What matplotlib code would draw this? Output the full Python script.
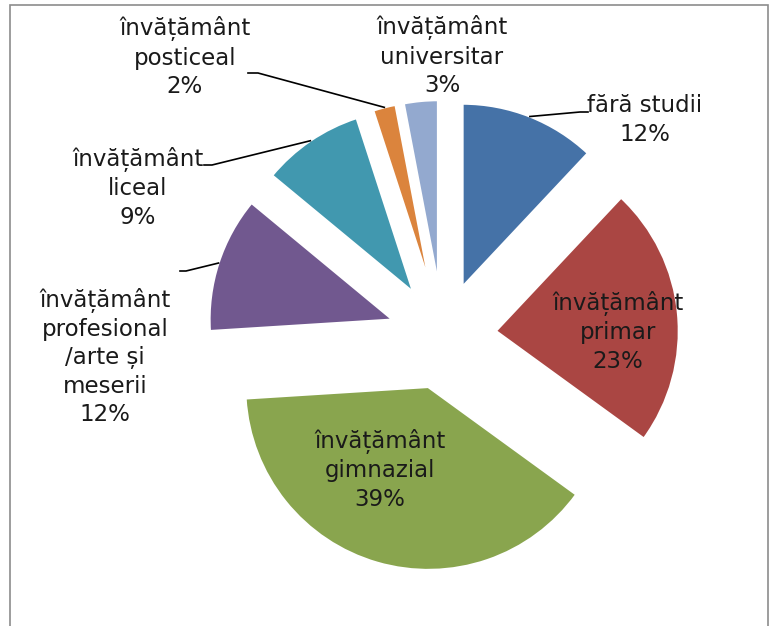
import numpy as np
import matplotlib.pyplot as plt
from matplotlib.patches import Rectangle

# Data
categories = ["fără studii", "învățământ\nprimar", "învățământ\ngimnazial",
              "învățământ\nprofesional\n/arte și\nmeserii", "învățământ\nliceal",
              "învățământ\nposticeal", "învățământ\nuniversitar"]
shares = [12, 23, 39, 12, 9, 2, 3]
colors = ["#4572A7", "#AA4643", "#89A54E", "#71588F", "#4198AF", "#DB843D", "#93A9CF"]

W, H = 772, 626
cx, cy, R = 443, 336, 183   # pie centre and radius in pixels
explode = 0.29

fig = plt.figure(figsize=(W / 100, H / 100), dpi=100)
ax = fig.add_axes([0, 0, 1, 1])

def px(x, y):
    # pixel position -> data coords
    return (x - cx) / R, (cy - y) / R

wedges, _ = ax.pie(shares, colors=colors, startangle=90, counterclock=False,
                   explode=[explode] * len(shares), radius=1, center=(0, 0),
                   wedgeprops=dict(edgecolor="white", linewidth=1.6),
                   frame=True)
ax.set_xlim(-cx / R, (W - cx) / R)
ax.set_ylim(-(H - cy) / R, cy / R)
ax.set_aspect("equal")
ax.axis("off")

# label positions (pixels) and optional leader end points
label_pos = [(645, 120), (618, 332), (380, 470), (105, 357), (138, 188), (185, 57), (442, 56)]
leader_end = [[(580, 112), (588, 112)], None, None,
              [(186, 271), (180, 271)], [(212, 165), (204, 165)],
              [(258, 73), (248, 73)], None]

fracs = np.array(shares) / sum(shares)
edges = np.concatenate([[0], np.cumsum(fracs)]) * 360
for i, (lab, val) in enumerate(zip(categories, shares)):
    x, y = px(*label_pos[i])
    ax.text(x, y, f"{lab}\n{val}%", ha="center", va="center", fontsize=16.5,
            color="#1a1a1a", linespacing=1.28, family="DejaVu Sans")
    if leader_end[i] is not None:
        mid = np.deg2rad((edges[i] + edges[i + 1]) / 2)
        ux, uy = np.sin(mid), np.cos(mid)
        sx, sy = explode * ux + ux, explode * uy + uy
        pts = [(sx, sy)] + [px(*p) for p in leader_end[i]]
        ax.plot([p[0] for p in pts], [p[1] for p in pts], color="black", lw=1.2)

fig.patches.append(Rectangle((10 / W, -0.01), 758 / W, 1 - 5 / H + 0.01,
                             transform=fig.transFigure, fill=False,
                             edgecolor="#8c8c8c", lw=1.2))

plt.savefig("out.png", dpi=100)
